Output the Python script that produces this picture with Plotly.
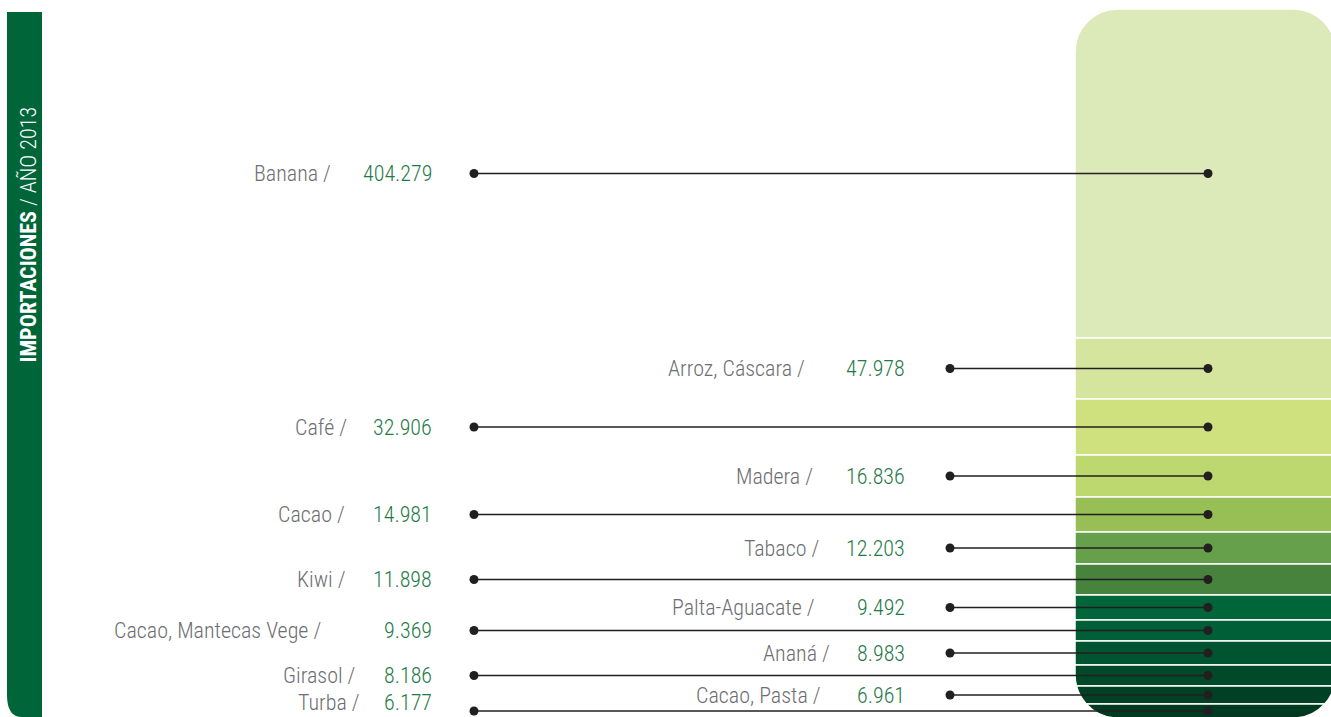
import plotly.graph_objects as go

# ---------------- data ----------------
products = ["Banana", "Arroz, Cáscara", "Café", "Madera", "Cacao", "Tabaco", "Kiwi",
            "Palta-Aguacate", "Cacao, Mantecas Vege", "Ananá", "Girasol", "Cacao, Pasta", "Turba"]
value_labels = ["404.279", "47.978", "32.906", "16.836", "14.981", "12.203", "11.898",
                "9.492", "9.369", "8.983", "8.186", "6.961", "6.177"]
# visual share of each segment in the column
bar_heights = [329, 61, 56, 42, 35, 32, 31, 25, 21, 24, 21, 18, 14]
label_column = ["left", "right", "left", "right", "left", "right", "left",
                "right", "left", "right", "left", "right", "left"]
title_bold = "IMPORTACIONES"
title_rest = " / AÑO 2013"

# ---------------- styles / layout ----------------
seg_colors = ["#dce9b8", "#d6e59d", "#cfe07e", "#bdd86e", "#97bf56", "#66a04a", "#47833c",
              "#00663a", "#005f36", "#005530", "#004a2a", "#004024", "#003a20"]
name_right_px = [333, 807, 349, 815, 347, 821, 348, 817, 323, 832, 358, 823, 362]
value_right_px = {"left": 434, "right": 907}
line_start_px = {"left": 474, "right": 950}
DOT_X = 1208
BAR_CENTER = 1205.5
BAR_WIDTH = 261
W, H = 1331, 717
ZERO = 338  # pixel row of the stack baseline (between first and second segment)
FONT = "Roboto Condensed, DejaVu Sans Condensed, sans-serif"
NAME_COLOR = "#6d6e71"
VALUE_COLOR = "#1f7a48"
LINE_COLOR = "#231f20"
BAND_COLOR = "#006639"

fig = go.Figure()

# stacked column: first segment up, rest stacked downward
centers = []
down = 0
for i, (p, h) in enumerate(zip(products, bar_heights)):
    if i == 0:
        yv = h
        centers.append(h / 2)
    else:
        yv = -h
        centers.append(-(down + h / 2))
        down += h
    fig.add_trace(go.Bar(x=[BAR_CENTER], y=[yv], width=BAR_WIDTH, name=p,
                         marker=dict(color=seg_colors[i], line=dict(color="white", width=1.5)),
                         hoverinfo="skip"))

# leader lines with dots
for i, p in enumerate(products):
    col = label_column[i]
    fig.add_trace(go.Scatter(x=[line_start_px[col], DOT_X], y=[centers[i], centers[i]],
                             mode="lines+markers",
                             line=dict(color=LINE_COLOR, width=1.5),
                             marker=dict(color=LINE_COLOR, size=9),
                             hoverinfo="skip", showlegend=False))
    # last label sits at the bottom edge: anchor it so it stays inside the picture
    if i == len(products) - 1:
        ty, yanc = ZERO - H, "bottom"
    else:
        ty, yanc = centers[i], "middle"
    fig.add_annotation(x=name_right_px[i], y=ty, text=p + " /",
                       xanchor="right", yanchor=yanc, showarrow=False,
                       font=dict(family=FONT, size=22, color=NAME_COLOR, weight=300))
    fig.add_annotation(x=value_right_px[col], y=ty, text=value_labels[i],
                       xanchor="right", yanchor=yanc, showarrow=False,
                       font=dict(family=FONT, size=22, color=VALUE_COLOR, weight=300))

# left band with vertical title
fig.add_shape(type="path", xref="paper", yref="paper",
              path=f"M {7/W} {1-12/H} L {42/W} {1-12/H} L {42/W} 0 L {22/W} 0 "
                   f"Q {7/W} 0 {7/W} {22/H} Z",
              fillcolor=BAND_COLOR, line=dict(width=0), layer="below")
fig.add_annotation(xref="paper", yref="paper", x=27.5 / W, y=1 - 235 / H,
                   text=f"<b>{title_bold}</b>{title_rest}", textangle=-90,
                   showarrow=False, xanchor="center", yanchor="middle",
                   font=dict(family=FONT, size=22, color="white", weight=300))

fig.update_layout(
    width=W, height=H, margin=dict(l=0, r=0, t=0, b=0),
    barmode="relative", barcornerradius=43, showlegend=False,
    paper_bgcolor="white", plot_bgcolor="white",
    xaxis=dict(range=[0, W], visible=False, fixedrange=True),
    yaxis=dict(range=[ZERO - H, ZERO], visible=False, fixedrange=True),
)

fig.write_html("out.html", post_script="document.body.style.margin='0';",
               config={"displayModeBar": False})
